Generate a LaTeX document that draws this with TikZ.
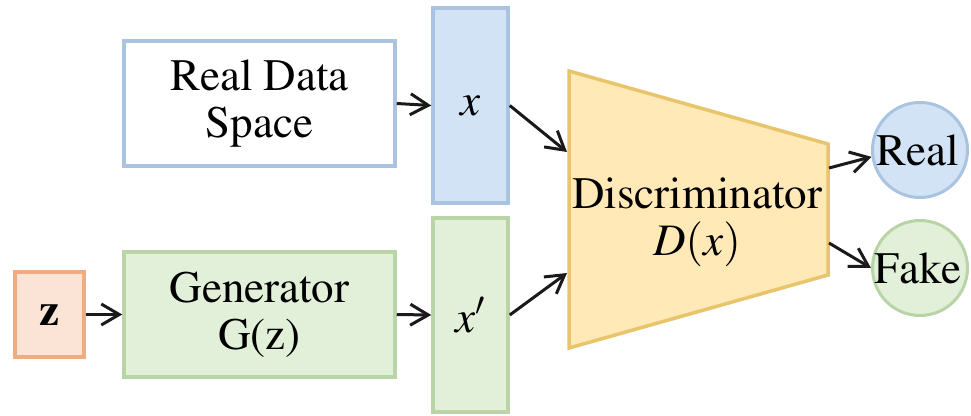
\documentclass[tikz,border=0pt]{standalone}
\usepackage[T1]{fontenc}
\usepackage{mathptmx}
\usetikzlibrary{arrows.meta}
\definecolor{bluefill}{HTML}{D2E3F5}
\definecolor{blueline}{HTML}{A9C3E0}
\definecolor{greenfill}{HTML}{E2F0D9}
\definecolor{greenline}{HTML}{B9D4A7}
\definecolor{orangefill}{HTML}{FBE3D5}
\definecolor{orangeline}{HTML}{EEAC82}
\definecolor{yellowfill}{HTML}{FFE9B6}
\definecolor{yellowline}{HTML}{E8C46A}
\definecolor{arrowcol}{HTML}{1A1A1A}
\tikzset{
  box/.style={draw, line width=3.5pt, inner sep=0pt, align=center},
  conn/.style={line width=3pt, draw=arrowcol, -{Straight Barb[length=18pt,width=21pt,line width=3pt]}},
  circ/.style={circle, draw, line width=3pt, minimum size=95pt, inner sep=0pt}
}
\begin{document}
\begin{tikzpicture}[x=1pt,y=-1pt,font=\fontsize{45}{47}\selectfont]
\useasboundingbox (0,0) rectangle (971,415);
% left boxes
\node[box, draw=blueline, fill=white, minimum width=271pt, minimum height=125pt] (rds) at (259.5,103.5) {Real Data\\Space};
\node[box, draw=greenline, fill=greenfill, minimum width=271pt, minimum height=125pt] (gen) at (259.5,314.5) {Generator\\G(z)};
\node[box, draw=orangeline, fill=orangefill, minimum width=69pt, minimum height=85pt] (z) at (49.5,314.5) {\textbf{z}};
% bars
\node[box, draw=blueline, fill=bluefill, minimum width=75pt, minimum height=195pt] (xb) at (470.5,105.5) {$x$};
\node[box, draw=greenline, fill=greenfill, minimum width=75pt, minimum height=194pt] (xpb) at (470.5,315) {$x'$};
% discriminator
\draw[line width=3.5pt, draw=yellowline, fill=yellowfill, line join=miter] (569,71) -- (828,144) -- (828,275) -- (569,348) -- cycle;
\node[align=center, inner sep=0pt] (disc) at (697,222) {Discriminator\\$D(x)$};
\coordinate (dIn1) at (567,152);
\coordinate (dIn2) at (567,273);
\coordinate (dOut1) at (829,168);
\coordinate (dOut2) at (829,243);
% outputs
\node[circ, draw=blueline, fill=bluefill] (real) at (920,150) {};
\node[circ, draw=greenline, fill=greenfill] (fake) at (920,268) {};
\node (realt) at (918,150) {Real};
\node (faket) at (918,268) {Fake};
% connectors
\draw[conn] (rds.east) -- (xb.west);
\draw[conn] (z.east) -- (gen.west);
\draw[conn] (gen.east) -- (xpb.west);
\draw[conn] (xb.east) -- (dIn1);
\draw[conn] (xpb.east) -- (dIn2);
\draw[conn] (dOut1) -- (real.188);
\draw[conn] (dOut2) -- (fake.west);
\end{tikzpicture}
\end{document}
